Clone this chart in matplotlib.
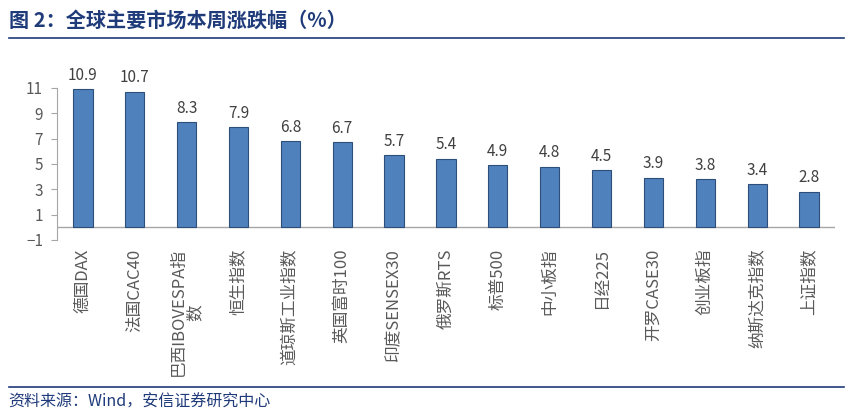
import matplotlib
matplotlib.use('Agg')
import matplotlib.pyplot as plt
import numpy as np

plt.rcParams['font.family'] = ['Noto Sans CJK SC', 'DejaVu Sans']

# data
markets = ['德国DAX', '法国CAC40', '巴西IBOVESPA指\n数', '恒生指数', '道琼斯工业指数',
           '英国富时100', '印度SENSEX30', '俄罗斯RTS', '标普500', '中小板指',
           '日经225', '开罗CASE30', '创业板指', '纳斯达克指数', '上证指数']
changes = [10.9, 10.7, 8.3, 7.9, 6.8, 6.7, 5.7, 5.4, 4.9, 4.8, 4.5, 3.9, 3.8, 3.4, 2.8]
yticks = [-1, 1, 3, 5, 7, 9, 11]

navy = '#1F3B7A'
gray = '#595959'

fig = plt.figure(figsize=(8.53, 4.15), dpi=100)
ax = fig.add_axes([0.0668, 0.4217, 0.912, 0.3663])

x = np.arange(len(markets))
bars = ax.bar(x, changes, width=0.37, color='#4F81BD', edgecolor='#2E4E7A', linewidth=0.8, zorder=3)

for b, v in zip(bars, changes):
    ax.annotate(f'{v}', xy=(b.get_x() + b.get_width() / 2, v), xytext=(0, 4),
                textcoords='offset points', ha='center', va='bottom',
                fontsize=11, color='#404040')

ax.axhline(0, color='#A6A6A6', linewidth=1, zorder=2)
ax.set_xlim(-0.5, len(markets) - 0.5)
ax.set_ylim(-1, 11)
ax.set_yticks(yticks)
ax.set_xticks(x)
ax.set_xticklabels(markets, rotation=90, va='top', ha='center', linespacing=1.0,
                   multialignment='center', fontsize=12, color=gray)
ax.tick_params(axis='x', length=0, pad=6)
ax.tick_params(axis='y', length=4, color='#A6A6A6', labelsize=11, labelcolor=gray, pad=6)

for s in ['top', 'right', 'bottom']:
    ax.spines[s].set_visible(False)
ax.spines['left'].set_color('#A6A6A6')

# title and source
fig.text(0.010, 0.952, '图 2：全球主要市场本周涨跌幅（%）', fontsize=14.5, fontweight='bold',
         color=navy, ha='left', va='center')
fig.add_artist(plt.Line2D([0.01, 0.99], [0.908, 0.908], color=navy, linewidth=1.2))
fig.add_artist(plt.Line2D([0.01, 0.99], [0.067, 0.067], color=navy, linewidth=1.2))
fig.text(0.010, 0.032, '资料来源：Wind，安信证券研究中心', fontsize=11.5, style='italic',
         color=navy, ha='left', va='center')

fig.savefig('out.png', dpi=100)
